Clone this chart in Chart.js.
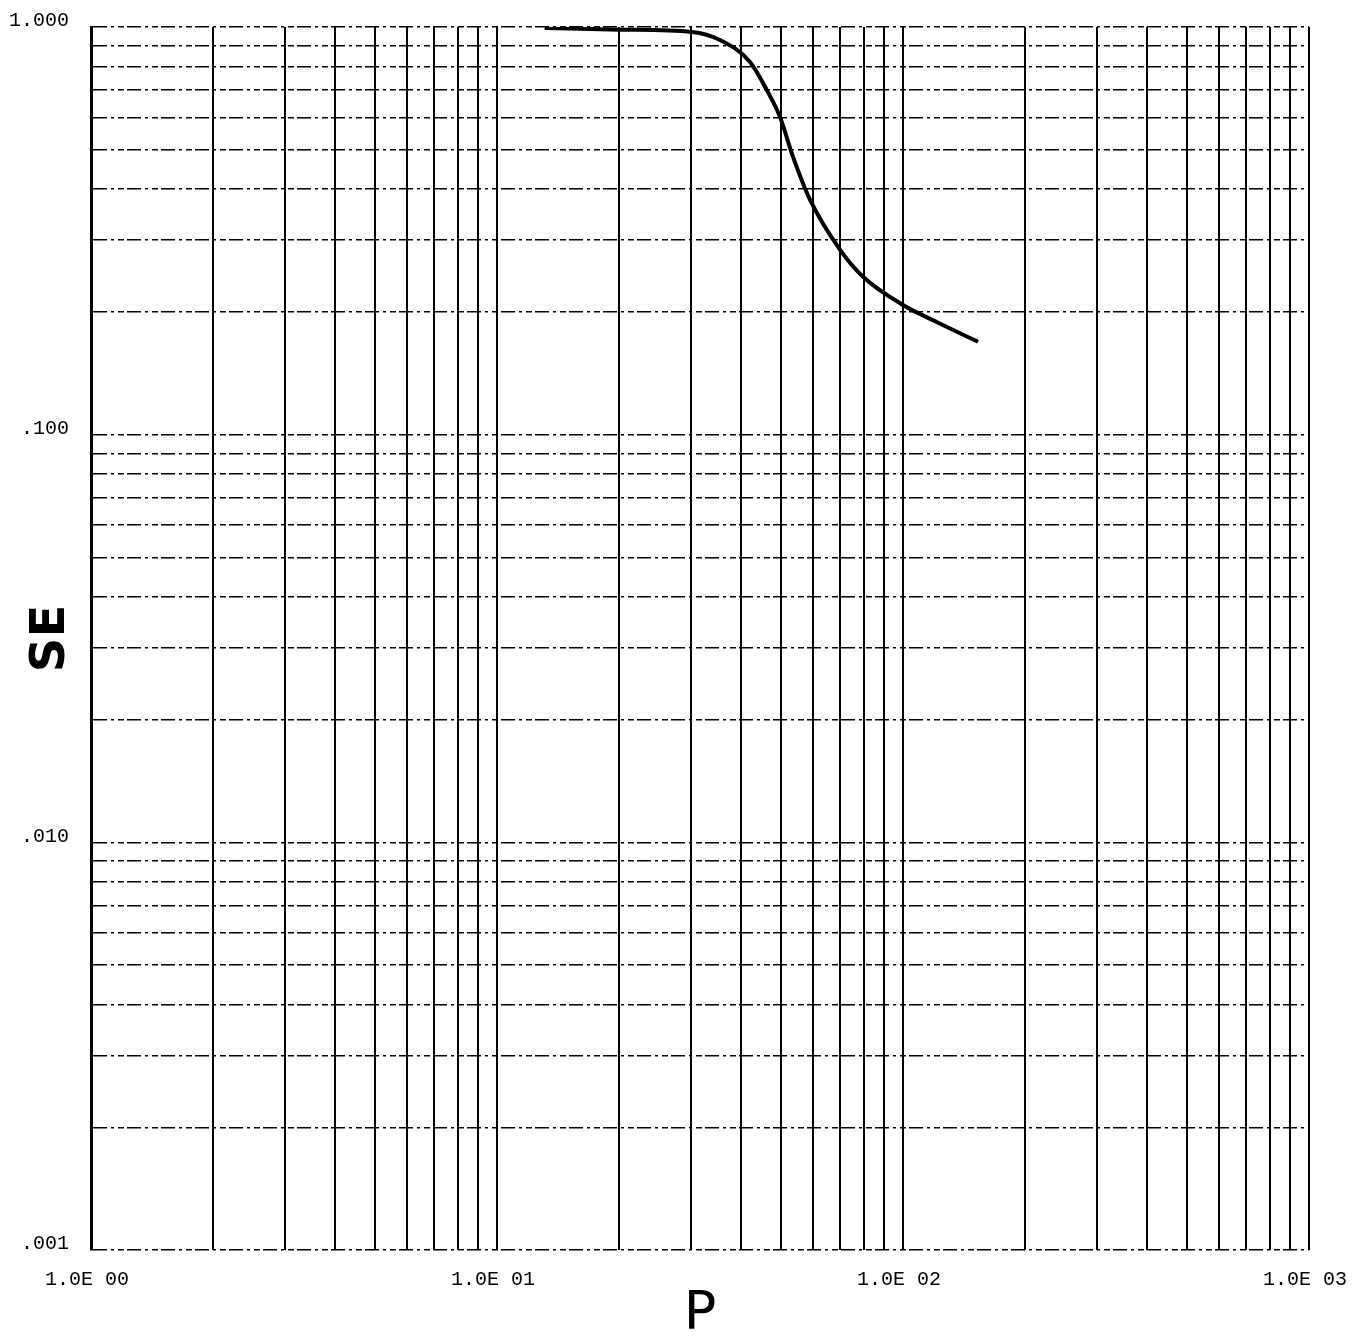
<!DOCTYPE html>
<html>
<head>
<meta charset="utf-8">
<title>SE vs P</title>
<script src="https://cdn.jsdelivr.net/npm/chart.js@4/dist/chart.umd.min.js"></script>
<style>
    body { margin: 0; background: #fff; }
    canvas { display: block; }
</style>
</head>
<body>
<canvas id="myChart" width="1371" height="1342"></canvas>
<script>
// curve: P (log x) and SE (log y)
const pValues = [13.1, 20.1, 30.2, 35.4, 42.0, 46.2, 49.8, 53.6, 59.0, 70.0, 79.7, 100, 121, 153];
const seValues = [0.995, 0.985, 0.972, 0.929, 0.821, 0.700, 0.601, 0.480, 0.377, 0.284, 0.244, 0.208, 0.189, 0.169];

// decade labels on both axes
const xDecades = [1, 10, 100, 1000];
const xDecadeLabels = ['1.0E 00', '1.0E 01', '1.0E 02', '1.0E 03'];
const yDecades = [0.001, 0.01, 0.1, 1];
const yDecadeLabels = ['.001', '.010', '.100', '1.000'];

// grid lines at 1..9 times each decade
const multiples = [1, 2, 3, 4, 5, 6, 7, 8, 9];

const points = pValues.map((p, i) => ({ x: p, y: seValues[i] }));

function decadeLabel(value, decades, labels) {
    const idx = decades.findIndex(d => Math.abs(Math.log10(d) - Math.log10(value)) < 1e-6);
    return idx === -1 ? '' : labels[idx];
}

function gridTicks(decades) {
    const ticks = [];
    decades.slice(0, -1).forEach(d => {
        multiples.forEach(m => ticks.push({ value: d * m, major: m === 1 }));
    });
    ticks.push({ value: decades[decades.length - 1], major: true });
    return ticks;
}

const tickFont = { family: 'Liberation Mono', size: 20 };

var ctx = document.getElementById('myChart').getContext('2d');
new Chart(ctx, {
    type: 'line',
    data: {
        datasets: [{
            data: points,
            borderColor: '#000',
            borderWidth: 4,
            pointRadius: 0,
            fill: false,
            cubicInterpolationMode: 'monotone'
        }]
    },
    options: {
        responsive: false,
        animation: false,
        layout: {
            padding: { top: 27, right: 62, left: 0, bottom: 0 }
        },
        plugins: {
            legend: { display: false },
            tooltip: { enabled: false }
        },
        scales: {
            x: {
                type: 'logarithmic',
                min: 1,
                max: 1000,
                afterBuildTicks: (scale) => { scale.ticks = gridTicks(xDecades); },
                afterFit: (scale) => { scale.height = 92; },
                grid: {
                    color: '#000',
                    lineWidth: 2,
                    drawTicks: false
                },
                border: { display: false },
                ticks: {
                    autoSkip: false,
                    maxRotation: 0,
                    padding: 18,
                    labelOffset: -4,
                    color: '#000',
                    font: tickFont,
                    callback: (value) => decadeLabel(value, xDecades, xDecadeLabels)
                },
                title: {
                    display: true,
                    text: 'P',
                    color: '#000',
                    font: { family: 'DejaVu Sans', size: 54, lineHeight: 1 },
                    padding: { top: 0, bottom: 0 }
                }
            },
            y: {
                type: 'logarithmic',
                min: 0.001,
                max: 1,
                afterBuildTicks: (scale) => { scale.ticks = gridTicks(yDecades); },
                afterFit: (scale) => {
                    scale.width = 91;
                    scale.paddingTop = 0;
                    scale.paddingBottom = 0;
                },
                grid: {
                    color: '#000',
                    lineWidth: 1.5,
                    drawTicks: false
                },
                border: {
                    display: true,
                    color: '#000',
                    width: 3,
                    dash: [14, 4, 3, 4, 6, 3]
                },
                ticks: {
                    autoSkip: false,
                    padding: 22,
                    labelOffset: -6,
                    color: '#000',
                    font: tickFont,
                    callback: (value) => decadeLabel(value, yDecades, yDecadeLabels)
                },
                title: {
                    display: true,
                    text: 'SE',
                    color: '#000',
                    font: { family: 'DejaVu Sans', size: 48, weight: 'bold', lineHeight: 1 },
                    padding: { top: 28, bottom: 0 }
                }
            }
        }
    }
});
</script>
</body>
</html>
